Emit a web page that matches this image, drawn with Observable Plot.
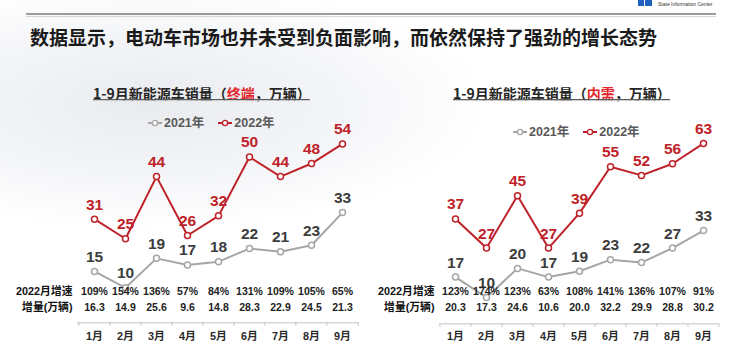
<!DOCTYPE html>
<html>
<head>
<meta charset="utf-8">
<script src="https://cdn.jsdelivr.net/npm/d3@7"></script>
<script src="https://cdn.jsdelivr.net/npm/@observablehq/plot@0.6"></script>
<style>
  html, body { margin: 0; padding: 0; background: #fff; }
  #slide { position: relative; width: 744px; height: 351px; overflow: hidden; background: #fff;
    font-family: "Liberation Sans", Arial, "Noto Sans CJK SC", sans-serif; }
  .bg { position: absolute; left: 0; top: 0; width: 744px; height: 351px;
    background: radial-gradient(ellipse 340px 125px at 150px 105px, #e9ebef 0%, rgba(236,238,242,0.6) 55%, rgba(255,255,255,0) 100%); }
  .abs { position: absolute; white-space: nowrap; }
  .main-title { left: 30px; top: 24px; font-family: "Noto Sans CJK SC", sans-serif; font-weight: 700;
    font-size: 19px; line-height: 26px; color: #1a1a1a; }
  .chart-title { font-family: "Noto Sans CJK SC", sans-serif; font-weight: 700; font-size: 14px;
    line-height: 18px; color: #262626; }
  .chart-title .hl { color: #e3262b; }
  .uline { position: absolute; height: 1.5px; background: #5a5a5a; box-shadow: 0 1px 1px #c8c8c8; }
  .legend { display: flex; align-items: center; gap: 14px; font-size: 12.5px; font-weight: 700;
    color: #595959; line-height: 16px; }
  .legend .item { display: flex; align-items: center; gap: 2px; }
  .plotbox { position: absolute; top: 0; width: 372px; height: 351px; }
</style>
</head>
<body>
<div id="slide">
  <div class="bg"></div>
  <div class="abs" style="left:26px;top:13px;width:690px;height:2px;background:#9b9b9b;"></div>
  <div class="abs" style="left:26px;top:16px;width:690px;height:1px;background:#d6d6d6;"></div>
  <div class="abs" style="left:638px;top:0px;width:6px;height:6px;background:#1f5fbf;"></div>
  <div class="abs" style="left:645px;top:0px;width:7px;height:6px;background:#1f5fbf;"></div>
  <div class="abs" style="left:658px;top:1px;font-size:5px;line-height:6px;color:#333;">State Information Center</div>
  <div class="abs main-title" id="mainTitle"></div>

  <div class="plotbox" id="leftPlot" style="left:0px;"></div>
  <div class="plotbox" id="rightPlot" style="left:372px;"></div>

  <div class="abs chart-title" id="leftTitle" style="left:93px;top:83.5px;"></div>
  <div class="uline" style="left:93px;top:98.5px;width:217px;"></div>
  <div class="abs chart-title" id="rightTitle" style="left:453px;top:83.5px;"></div>
  <div class="uline" style="left:453px;top:98.5px;width:217px;"></div>

  <div class="abs legend" id="leftLegend" style="left:148px;top:115px;"></div>
  <div class="abs legend" id="rightLegend" style="left:513px;top:124px;"></div>
</div>
<script>
// ---------- data ----------
const mainTitle = "数据显示，电动车市场也并未受到负面影响，而依然保持了强劲的增长态势";
const months = ["1月","2月","3月","4月","5月","6月","7月","8月","9月"];
const seriesNames = ["2021年","2022年"];
const rowLabels = ["2022月增速","增量(万辆)"];

// 终端 (terminal sales, 万辆)
const termTitle = ["1-9月新能源车销量（","终端","，万辆）"];
const termSales2021 = [15,10,19,17,18,22,21,23,33];
const termSales2022 = [31,25,44,26,32,50,44,48,54];
const termGrowth = ["109%","154%","136%","57%","84%","131%","109%","105%","65%"];
const termIncrement = ["16.3","14.9","25.6","9.6","14.8","28.3","22.9","24.5","21.3"];

// 内需 (domestic demand, 万辆)
const domTitle = ["1-9月新能源车销量（","内需","，万辆）"];
const domSales2021 = [17,10,20,17,19,23,22,27,33];
const domSales2022 = [37,27,45,27,39,55,52,56,63];
const domGrowth = ["123%","174%","123%","63%","108%","141%","136%","107%","91%"];
const domIncrement = ["20.3","17.3","24.6","10.6","20.0","32.2","29.9","28.8","30.2"];

// ---------- styles ----------
const GRAY = "#a6a6a6", GRAY_TXT = "#3d3d3d", RED = "#be2228";
const FONT = "Liberation Sans, Arial, Noto Sans CJK SC, sans-serif";

document.getElementById("mainTitle").textContent = mainTitle;
function setTitle(id, parts) {
  const el = document.getElementById(id);
  el.innerHTML = "";
  el.append(parts[0]);
  const s = document.createElement("span"); s.className = "hl"; s.textContent = parts[1];
  el.append(s, parts[2]);
}
setTitle("leftTitle", termTitle);
setTitle("rightTitle", domTitle);

function legend(id) {
  const el = document.getElementById(id);
  [[seriesNames[0], GRAY], [seriesNames[1], RED]].forEach(([name, color]) => {
    const it = document.createElement("span"); it.className = "item";
    it.innerHTML = `<svg width="14" height="8"><line x1="0" y1="4" x2="14" y2="4" stroke="${color}" stroke-width="2"/><circle cx="7" cy="4" r="2.6" fill="white" stroke="${color}" stroke-width="1.4"/></svg>`;
    const t = document.createElement("span"); t.textContent = name;
    it.append(t); el.append(it);
  });
}
legend("leftLegend");
legend("rightLegend");

function chart({s21, s22, growth, inc, ml, mr, mt, mb, ymax, axisDy, labelSize}) {
  const W = 372, H = 351;
  const rows = months.map((m, i) => ({m, v21: s21[i], v22: s22[i], g: growth[i], inc: inc[i]}));
  const step = (W - ml - mr) / months.length;
  const bottom = H - mb;
  const pxPerUnit = (bottom - mt) / ymax;
  const tickLen = 3.5 / pxPerUnit;
  const common = {fontFamily: FONT, fontWeight: "bold"};
  return Plot.plot({
    width: W, height: H,
    marginLeft: ml, marginRight: mr, marginTop: mt, marginBottom: mb,
    style: {background: "transparent", overflow: "visible"},
    x: {type: "point", domain: months, padding: 0.5, axis: null},
    y: {domain: [0, ymax], axis: null},
    marks: [
      Plot.ruleY([0], {stroke: "#c4c4c4", strokeWidth: 1, dy: axisDy}),
      Plot.ruleX(months, {x: d => d, y1: 0, y2: -tickLen, dx: -step / 2, dy: axisDy, stroke: "#c4c4c4"}),
      Plot.ruleX([months[months.length - 1]], {x: d => d, y1: 0, y2: -tickLen, dx: step / 2, dy: axisDy, stroke: "#c4c4c4"}),
      Plot.line(rows, {x: "m", y: "v21", stroke: GRAY, strokeWidth: 2}),
      Plot.dot(rows, {x: "m", y: "v21", r: 3, fill: "white", stroke: GRAY, strokeWidth: 1.5}),
      Plot.line(rows, {x: "m", y: "v22", stroke: RED, strokeWidth: 2}),
      Plot.dot(rows, {x: "m", y: "v22", r: 3, fill: "white", stroke: RED, strokeWidth: 1.5}),
      Plot.text(rows, {x: "m", y: "v21", text: d => String(d.v21), dy: -14.5, fill: GRAY_TXT, fontSize: labelSize, ...common}),
      Plot.text(rows, {x: "m", y: "v22", text: d => String(d.v22), dy: -14.5, fill: RED, fontSize: labelSize, ...common}),
      Plot.text(rows, {x: "m", text: "g", frameAnchor: "bottom", dy: 294.3 - bottom, fill: "#222", fontSize: 10.5, ...common}),
      Plot.text(rows, {x: "m", text: "inc", frameAnchor: "bottom", dy: 310 - bottom, fill: "#222", fontSize: 10.5, ...common}),
      Plot.text([rowLabels[0]], {text: d => d, frameAnchor: "bottom-left", textAnchor: "end", dx: -5, dy: 294.3 - bottom, fill: "#111", fontSize: 10.8, ...common}),
      Plot.text([rowLabels[1]], {text: d => d, frameAnchor: "bottom-left", textAnchor: "end", dx: -5, dy: 310 - bottom, fill: "#111", fontSize: 10.8, ...common}),
      Plot.text(rows, {x: "m", text: "m", frameAnchor: "bottom", dy: 339 - bottom, fill: "#2a2a2a", fontSize: 10.8, ...common})
    ]
  });
}

document.getElementById("leftPlot").append(chart({
  s21: termSales2021, s22: termSales2022, growth: termGrowth, inc: termIncrement,
  ml: 77, mr: 13, mt: 123.8, mb: 31, ymax: 60, axisDy: 2.3, labelSize: 15.5
}));
document.getElementById("rightPlot").append(chart({
  s21: domSales2021, s22: domSales2022, growth: domGrowth, inc: domIncrement,
  ml: 67, mr: 25, mt: 122.6, mb: 25, ymax: 70, axisDy: -2.7, labelSize: 15.5
}));
</script>
</body>
</html>
